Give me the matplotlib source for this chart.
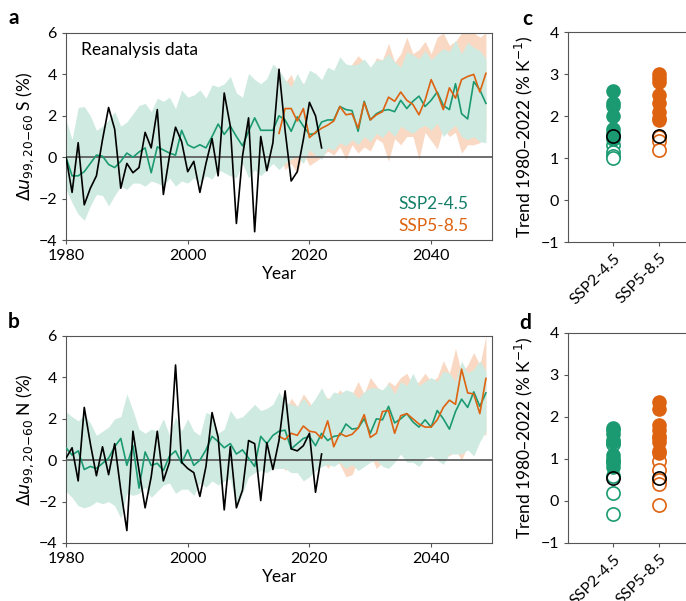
import numpy as np
import matplotlib
matplotlib.use("Agg")
import matplotlib.pyplot as plt

plt.rcParams['font.family'] = ['Lato', 'DejaVu Sans']
plt.rcParams['mathtext.fontset'] = 'dejavusans'

years_obs = list(range(1980, 2023))
years_245 = list(range(1980, 2050))
years_585 = list(range(2015, 2050))

# Panel a (S)
obs_a = [0, -1.7, 0.7, -2.3, -1.5, -0.9, 0.85, 2.4, 1.35, -1.5, -0.3, -0.75, -0.5, 1.2, 0.45, 2.3, -1.8, 0.05, 1.45, 0.75,
         -0.7, -0.2, -1.7, -0.3, 0.9, -0.9, 3.1, 1.5, -3.2, 0.05, 1.9, -3.6, 1.0, -0.65, 0.7, 4.25, 1.3, -1.15, -0.7, 0.85,
         2.65, 2.0, 0.45]
m245_a = [0, -0.9, -0.9, -0.7, -0.3, 0.1, 0.05, -0.35, -0.5, -0.2, 0.2, 0, 0.25, 0.45, -0.75, 0.5, 0.35, 0.2, 0.1, 1.3,
          0.6, 0.45, 0.6, 0.45, 1.0, 1.6, 1.1, 1.5, 1.0, 0.55, 1.25, 1.9, 1.3, 1.3, 1.3, 2.0, 1.8, 1.25, 1.95, 1.5,
          1.1, 1.15, 1.7, 1.8, 1.8, 2.45, 2.3, 2.25, 1.25, 2.7, 1.8, 2.1, 2.25, 2.3, 2.2, 2.75, 2.35, 2.7, 2.95, 2.45,
          2.75, 3.15, 2.5, 2.3, 3.55, 2.1, 1.85, 3.65, 3.25, 2.6]
up245_a = [1.8, 0.85, 2.4, 2.45, 2.0, 1.3, 1.5, 1.8, 2.2, 1.5, 1.7, 2.1, 2.5, 2.6, 2.2, 2.85, 2.7, 2.9, 2.35, 3.25,
           2.9, 3.0, 3.25, 2.85, 3.5, 3.4, 3.55, 3.9, 3.1, 2.9, 4.05, 3.75, 3.55, 3.8, 4.5, 4.2, 3.75, 3.4, 4.05, 3.5,
           4.2, 4.05, 3.75, 4.35, 4.2, 4.85, 4.5, 4.45, 4.5, 4.75, 4.35, 4.7, 4.7, 5.0, 4.6, 4.35, 5.1, 4.95, 4.75, 5.15,
           4.7, 5.0, 5.25, 5.1, 5.65, 5.0, 5.55, 5.3, 5.15, 4.75]
lo245_a = [-1.55, -2.2, -2.75, -3.05, -2.35, -1.8, -1.85, -2.35, -1.85, -1.4, -1.55, -1.25, -1.25, -1.4, -1.15, -1.25, -1.4, -1.0, -1.4, -1.15,
           -1.25, -1.0, -1.25, -0.9, -1.05, -0.6, -0.75, -0.9, -1.0, -0.3, -1.0, -0.6, -0.9, -0.6, -0.3, -0.6, -0.3, -0.1, 0.05, -0.3,
           0.35, 0.1, -0.1, 0.45, 0.35, 0.7, 0.55, 0.85, 0.6, 1.0, 0.75, 1.15, 0.95, 1.3, 1.0, 1.5, 1.3, 1.15, 1.4, 1.55,
           1.3, 1.65, 1.0, 1.3, 1.55, 1.0, 0.85, 1.0, 0.75, 0.7]
m585_a = [1.15, 2.35, 2.35, 1.75, 2.35, 0.95, 1.2, 1.4, 1.55, 1.75, 2.45, 2.05, 2.1, 1.4, 2.65, 1.8, 2.05, 2.2, 2.9, 2.7,
          3.15, 2.75, 2.55, 2.05, 2.75, 3.75, 3.1, 2.3, 3.35, 2.85, 3.75, 3.9, 4.0, 3.15, 4.05]
up585_a = [3.0, 3.6, 4.0, 3.2, 3.6, 3.4, 3.6, 3.3, 4.2, 3.8, 4.6, 4.0, 4.5, 4.9, 4.6, 4.2, 4.8, 4.7, 5.5, 4.6,
           5.0, 5.8, 5.0, 5.2, 5.6, 5.0, 5.8, 6.0, 5.4, 5.6, 6.0, 6.0, 6.0, 5.8, 6.0]
lo585_a = [0.3, -0.6, -0.3, -0.8, 0.2, -0.4, -0.2, 0.0, 0.3, 0.1, 0.5, -0.1, 0.6, 0.2, 0.5, 0.3, 0.9, 0.7, -0.2, 0.9,
           0.6, 1.0, 1.0, -0.1, 1.2, 0.8, 0.4, 1.4, 1.0, 1.2, 0.2, 0.6, 0.6, 0.7, 1.2]

# Panel b (N)
obs_b = [0.1, 0.6, -1.0, 2.55, 0.8, -0.75, 0.65, -0.7, 0.8, -1.45, -3.4, 1.4, -0.5, -2.3, -0.8, 1.4, -1.0, -0.1, 4.6, -0.1,
         -0.4, -0.6, -1.75, -0.3, 2.3, 1.1, -2.4, 0.65, -2.3, -1.45, 0.95, 0.8, -1.95, 0.85, -0.45, 0.95, 3.35, 0.55, 0.45, 0.7,
         1.3, -1.55, 0.3]
m245_b = [0.6, 0.25, 0.45, -0.45, -0.3, -0.4, -0.15, 0.1, 0.65, 1.05, -0.25, 0.7, -1.35, 0.4, -0.25, -0.15, -0.5, 0.2, 0.45, -0.15,
          0.5, -0.25, 0, 0.5, 1.15, 0.9, 0.6, 0.8, 0.3, 0.5, 0.1, -0.3, 1.15, 0.8, 1.2, 1.4, 1.45, 0.55, 0.8, 1.05,
          1.15, 0.7, 1.3, 0.95, 1.15, 1.2, 1.75, 1.5, 1.55, 2.0, 1.3, 2.0, 1.95, 2.6, 1.8, 2.0, 2.25, 1.85, 1.6, 1.95,
          1.6, 2.4, 2.0, 1.5, 2.35, 2.95, 2.55, 3.3, 2.6, 3.25]
up245_b = [2.35, 2.1, 1.9, 2.2, 1.8, 1.2, 1.4, 1.6, 2.0, 2.1, 3.2, 2.4, 1.5, 1.3, 1.5, 1.4, 2.0, 1.2, 2.1, 1.4,
           2.0, 1.4, 1.2, 2.3, 2.2, 1.3, 1.5, 2.4, 2.0, 2.1, 2.4, 2.7, 2.4, 2.5, 2.7, 3.3, 2.8, 2.7, 2.6, 3.0,
           2.6, 3.0, 3.5, 2.9, 3.3, 3.2, 3.4, 3.3, 3.0, 3.3, 3.5, 3.5, 3.4, 3.7, 3.2, 3.8, 3.6, 4.2, 3.6, 3.8,
           4.0, 3.8, 4.3, 4.2, 3.8, 4.8, 4.2, 4.4, 4.8, 4.3]
lo245_b = [-1.5, -1.8, -2.2, -2.3, -2.2, -2.0, -2.1, -2.0, -2.2, -2.8, -1.6, -1.7, -1.6, -1.3, -1.8, -1.5, -1.2, -1.1, -1.6, -1.4,
           -1.4, -1.7, -1.1, -1.3, -1.0, -1.2, -1.0, -0.9, -2.3, -1.6, -0.8, -0.6, -0.5, -0.6, -0.4, -0.4, -0.4, -0.6, -0.6, -1.0,
           -0.8, -0.5, -0.3, -0.2, -0.3, -0.1, -0.4, -0.2, -0.5, -0.3, -0.1, 0.0, -0.3, -0.4, -0.1, 0.3, -0.1, -0.1, -0.3, 0.1,
           0.2, 0.0, -0.2, 0.3, 0.3, 0.3, 0.5, 0.2, 0.9, 1.4]
m585_b = [1.15, 1.0, 1.3, 1.2, 1.65, 1.4, 1.35, 1.05, 1.9, 0.65, 1.3, 1.15, 1.25, 1.55, 2.2, 1.1, 1.3, 2.35, 2.4, 1.3,
          2.15, 2.25, 2.0, 1.75, 1.6, 1.6, 1.95, 2.55, 2.9, 2.7, 4.4, 3.25, 3.2, 2.25, 3.95]
up585_b = [1.5, 2.3, 3.0, 2.6, 3.2, 2.8, 2.3, 3.2, 3.0, 3.0, 3.4, 3.1, 3.2, 3.8, 3.2, 4.0, 3.6, 3.2, 3.8, 3.6,
           4.0, 4.2, 3.6, 3.8, 4.2, 3.8, 4.0, 4.8, 4.2, 5.4, 4.2, 4.6, 5.2, 4.6, 6.0]
lo585_b = [0.0, -0.5, -0.2, 0.0, -0.3, 0.2, -0.2, 0.2, -0.4, 0.0, -0.2, -0.8, -0.7, 0.0, -0.1, 0.3, -0.4, -0.1, 0.5, 0.1,
           0.3, 0.0, 0.3, 0.1, 0.6, 0.6, 0.4, 0.6, 0.2, 0.5, 0.0, 0.7, 1.0, 1.4, 1.2]

# Panels c, d: trends
scenarios = ['SSP2-4.5', 'SSP5-8.5']
c_245_filled = [2.6, 2.3, 2.25, 2.0, 1.7, 1.6, 1.5, 1.45]
c_245_open = [1.3, 1.15, 1.05, 1.0]
c_585_filled = [3.0, 2.9, 2.8, 2.5, 2.3, 2.1, 1.95, 1.9]
c_585_open = [1.5, 1.4, 1.2]
c_obs = 1.52
d_245_filled = [1.75, 1.7, 1.6, 1.45, 1.4, 1.1, 1.0, 0.9, 0.8]
d_245_open = [1.35, 0.95, 0.6, 0.2, -0.3]
d_585_filled = [2.35, 2.2, 1.8, 1.7, 1.55, 1.5, 1.4, 1.2, 1.15]
d_585_open = [0.95, 0.75, 0.5, 0.4, -0.1]
d_obs = 0.55

GREEN = '#1b9a72'
ORANGE = '#dd6311'
GBAND = '#cfeae1'
OBAND = '#f9d9c3'
W, H = 686, 601

fig = plt.figure(figsize=(6.86, 6.01), dpi=100)

def fr(l, t, r, b):
    return [l / W, 1 - b / H, (r - l) / W, (b - t) / H]

def letter(x, y, s):
    fig.text(x / W, 1 - y / H, s, fontsize=15, fontweight='bold', ha='center', va='center')

def ts_panel(rect, obs, m245, up245, lo245, m585, up585, lo585, hemi, legend):
    ax = fig.add_axes(rect)
    ax.fill_between(years_585, lo585, up585, color=OBAND, lw=0, zorder=1)
    ax.fill_between(years_245, lo245, up245, color=GBAND, lw=0, zorder=2)
    ax.axhline(0, color='#555555', lw=1.2, zorder=3)
    ax.plot(years_245, m245, color=GREEN, lw=1.2, zorder=4)
    ax.plot(years_585, m585, color=ORANGE, lw=1.2, zorder=5)
    ax.plot(years_obs, obs, color='black', lw=1.2, zorder=6)
    ax.set_xlim(1980, 2050)
    ax.set_ylim(-4, 6)
    ax.set_xticks([1980, 2000, 2020, 2040])
    ax.set_yticks([-4, -2, 0, 2, 4, 6])
    ax.tick_params(labelsize=11.5, length=3, color='#555555')
    for s in ax.spines.values():
        s.set_color('#555555')
    ax.set_xlabel('Year', fontsize=12.5, labelpad=2)
    ax.set_ylabel(r'$\Delta u_{99,20\mathrm{-}60}$ ' + hemi + ' (%)', fontsize=12.5, labelpad=2)
    if legend:
        ax.text(0.035, 0.895, 'Reanalysis data', transform=ax.transAxes, fontsize=12.5)
        ax.text(0.945, 0.15, 'SSP2-4.5', transform=ax.transAxes, fontsize=12.5, color='#15806a', ha='right')
        ax.text(0.945, 0.045, 'SSP5-8.5', transform=ax.transAxes, fontsize=12.5, color=ORANGE, ha='right')
    return ax

ts_panel(fr(66, 33, 492, 240), obs_a, m245_a, up245_a, lo245_a, m585_a, up585_a, lo585_a, 'S', True)
ts_panel(fr(66, 336, 492, 543), obs_b, m245_b, up245_b, lo245_b, m585_b, up585_b, lo585_b, 'N', False)
letter(14, 18, 'a')
letter(14, 322, 'b')

def dot_panel(rect, f245, o245, f585, o585, obsv):
    ax = fig.add_axes(rect)
    ms = 9.5
    for i, (fv, ov, col) in enumerate([(f245, o245, GREEN), (f585, o585, ORANGE)]):
        ax.plot([i] * len(ov), ov, 'o', mfc='white', mec=col, ms=ms, mew=1.2, ls='none')
        ax.plot([i] * len(fv), fv, 'o', mfc=col, mec=col, ms=ms, ls='none')
        ax.plot([i], [obsv], 'o', mfc='none', mec='black', ms=ms, mew=1.2)
    ax.set_xlim(-0.98, 1.9)
    ax.set_ylim(-1, 4)
    ax.set_xticks([0, 1])
    ax.set_xticklabels(scenarios, rotation=45, ha='right', rotation_mode='anchor', fontsize=11)
    ax.set_yticks([-1, 0, 1, 2, 3, 4])
    ax.tick_params(labelsize=11.5, length=3, color='#555555')
    for s in ax.spines.values():
        s.set_color('#555555')
    ax.set_ylabel('Trend 1980–2022 (% K$^{-1}$)', fontsize=12.5, labelpad=4)

dot_panel(fr(568, 32, 700, 242), c_245_filled, c_245_open, c_585_filled, c_585_open, c_obs)
dot_panel(fr(568, 333, 700, 543), d_245_filled, d_245_open, d_585_filled, d_585_open, d_obs)
letter(527, 19, 'c')
letter(525, 323, 'd')

fig.savefig('out.png', dpi=100)
